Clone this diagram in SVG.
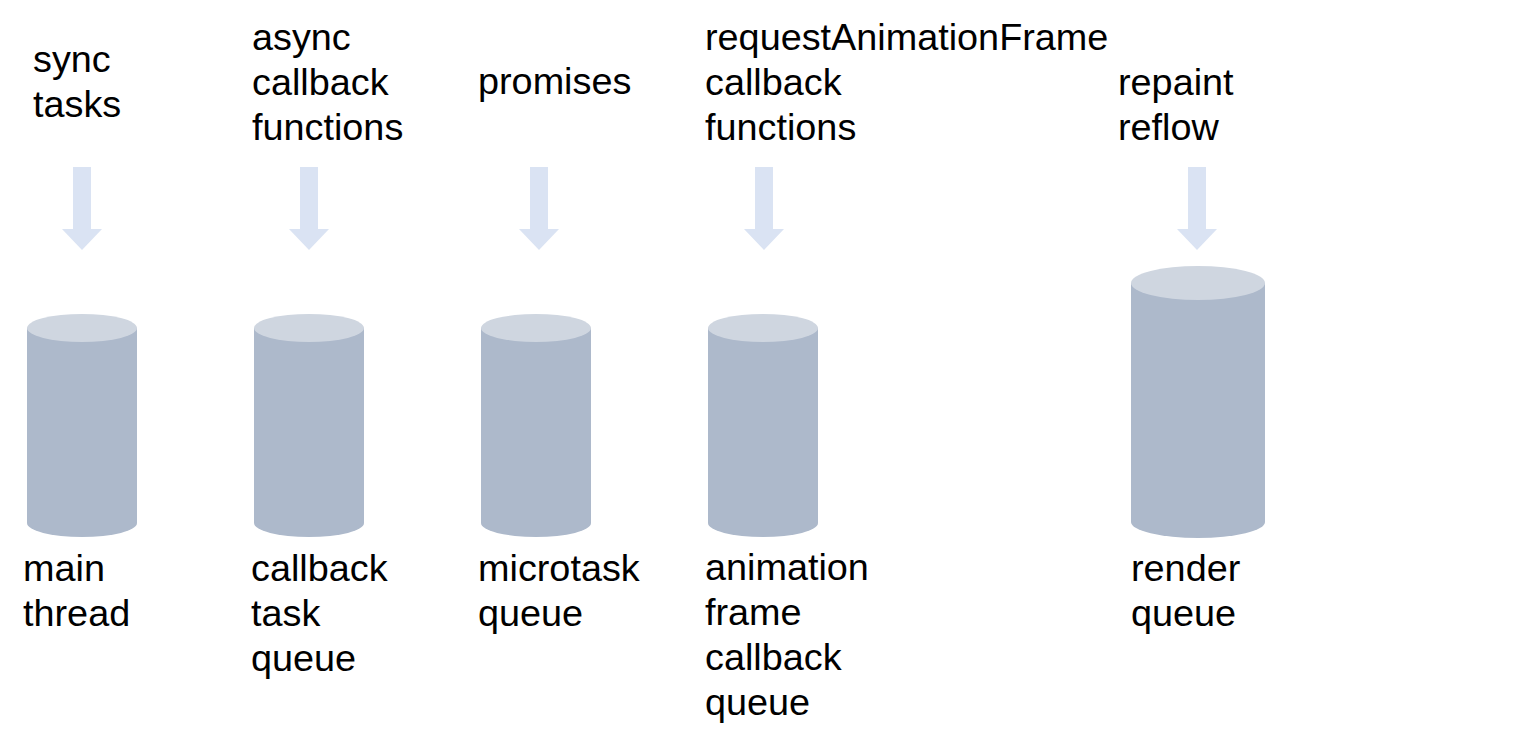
<svg xmlns="http://www.w3.org/2000/svg" width="1535" height="746" viewBox="0 0 1535 746">
<style>
text{font-family:"Liberation Sans",Arial,sans-serif;font-size:37.8px;fill:#000}
.arrow{fill:#DAE3F3}
.body{fill:#ADB9CB}
.top{fill:#CFD6E0}
</style>
<rect width="1535" height="746" fill="#fff"/>
<g id="connectors">
<polygon class="arrow" points="73,167 91,167 91,229 102,229 82,250 62,229 73,229"/>
<polygon class="arrow" points="300,167 318,167 318,229 329,229 309,250 289,229 300,229"/>
<polygon class="arrow" points="530,167 548,167 548,229 559,229 539,250 519,229 530,229"/>
<polygon class="arrow" points="755,167 773,167 773,229 784,229 764,250 744,229 755,229"/>
<polygon class="arrow" points="1188,167 1206,167 1206,229 1217,229 1197,250 1177,229 1188,229"/>
</g>
<g id="label-sync"><text x="33" y="72">sync</text><text x="33" y="117">tasks</text></g>
<g id="label-async"><text x="252" y="50">async</text><text x="252" y="95">callback</text><text x="252" y="140">functions</text></g>
<g id="label-promises"><text x="478" y="94">promises</text></g>
<g id="label-raf"><text x="705" y="50">requestAnimationFrame</text><text x="705" y="95">callback</text><text x="705" y="140">functions</text></g>
<g id="label-repaint"><text x="1118" y="95">repaint</text><text x="1118" y="140">reflow</text></g>
<g id="main-thread">
<path class="body" d="M27,328 V523 A55,14 0 0 0 137,523 V328 Z"/>
<ellipse class="top" cx="82" cy="328" rx="55" ry="14"/>
<text x="23" y="581">main</text><text x="23" y="626">thread</text>
</g>
<g id="callback-task-queue">
<path class="body" d="M254,328 V523 A55,14 0 0 0 364,523 V328 Z"/>
<ellipse class="top" cx="309" cy="328" rx="55" ry="14"/>
<text x="251" y="581">callback</text><text x="251" y="626">task</text><text x="251" y="671">queue</text>
</g>
<g id="microtask-queue">
<path class="body" d="M481,328 V523 A55,14 0 0 0 591,523 V328 Z"/>
<ellipse class="top" cx="536" cy="328" rx="55" ry="14"/>
<text x="478" y="581">microtask</text><text x="478" y="626">queue</text>
</g>
<g id="animation-frame-callback-queue">
<path class="body" d="M708,328 V523 A55,14 0 0 0 818,523 V328 Z"/>
<ellipse class="top" cx="763" cy="328" rx="55" ry="14"/>
<text x="705" y="580">animation</text><text x="705" y="625">frame</text><text x="705" y="670">callback</text><text x="705" y="715">queue</text>
</g>
<g id="render-queue">
<path class="body" d="M1131,283 V522 A67,16 0 0 0 1265,522 V283 Z"/>
<ellipse class="top" cx="1198" cy="283" rx="67" ry="17"/>
<text x="1131" y="581">render</text><text x="1131" y="626">queue</text>
</g>
</svg>
